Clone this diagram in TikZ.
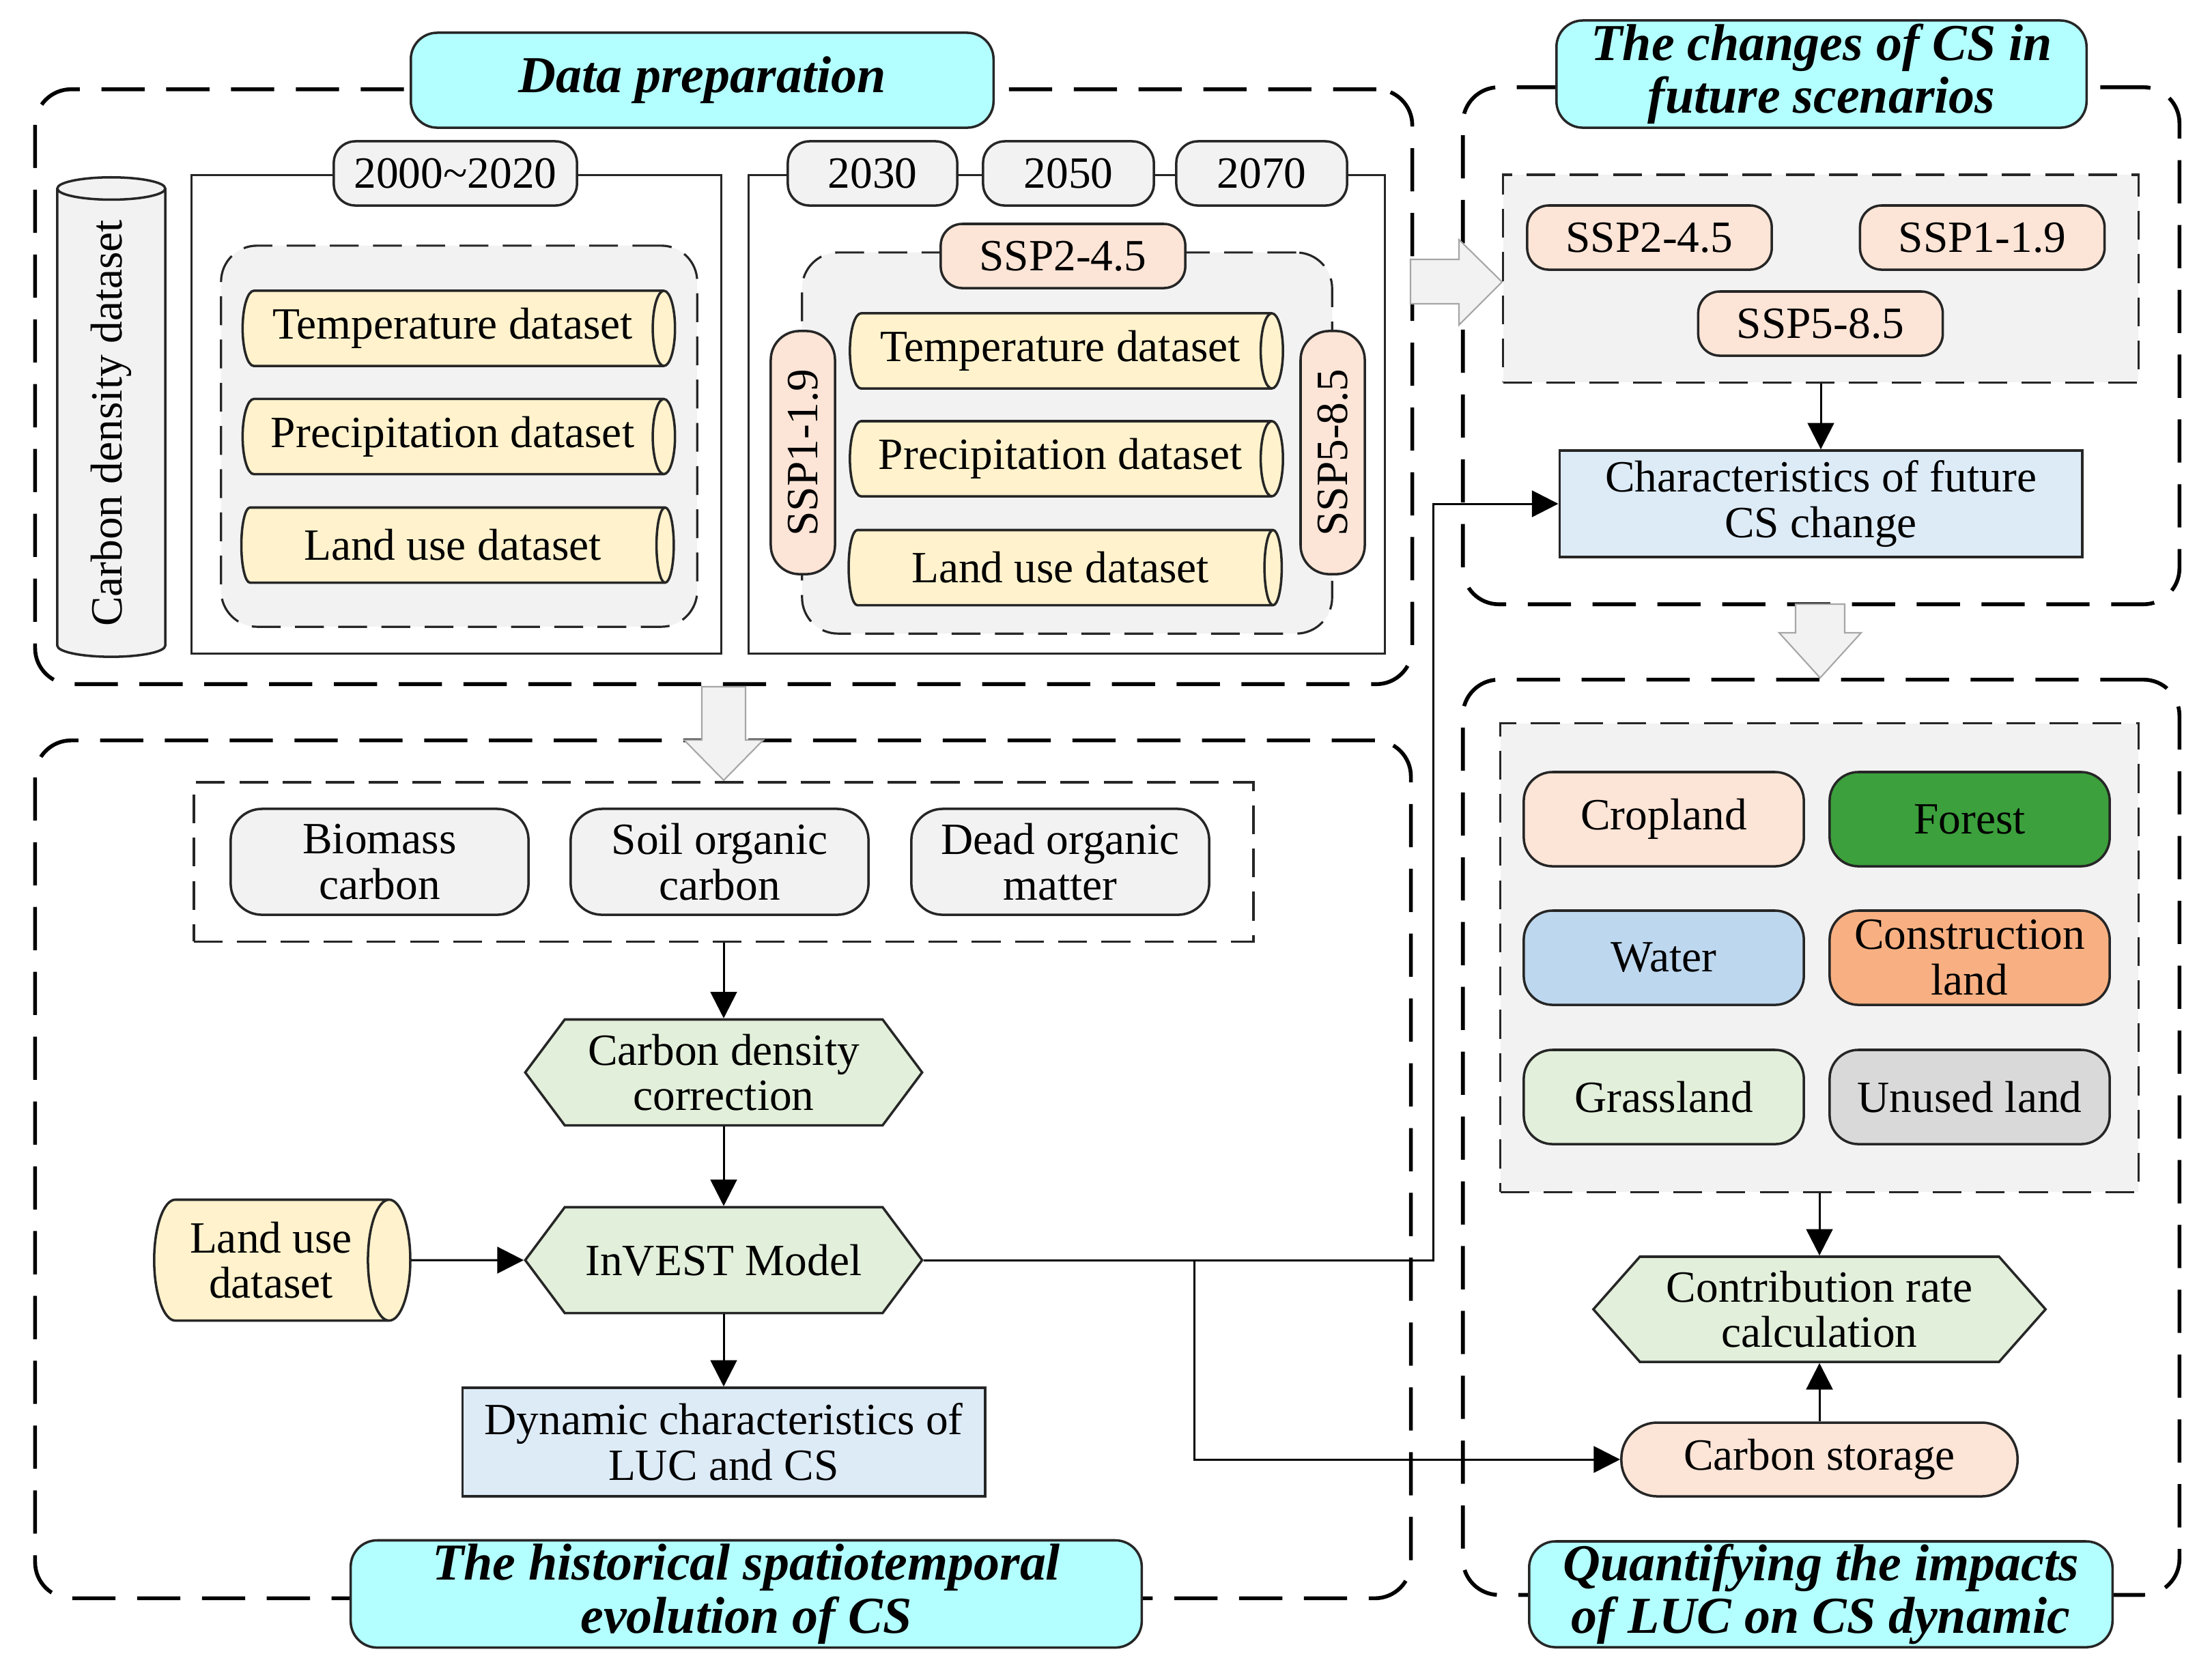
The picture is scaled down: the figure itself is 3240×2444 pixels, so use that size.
\documentclass[tikz,border=0pt]{standalone}
\usepackage{fontspec}
\setmainfont{Liberation Serif}
\usetikzlibrary{shapes.geometric,shapes.symbols,arrows.meta,calc}
\definecolor{titlecyan}{RGB}{179,255,255}
\definecolor{lgray}{RGB}{242,242,242}
\definecolor{lyellow}{RGB}{255,242,204}
\definecolor{peach}{RGB}{252,228,214}
\definecolor{lblue}{RGB}{221,235,247}
\definecolor{water}{RGB}{189,215,238}
\definecolor{forest}{RGB}{60,160,60}
\definecolor{constr}{RGB}{248,176,130}
\definecolor{lgreen}{RGB}{226,239,218}
\definecolor{unused}{RGB}{217,217,217}
\definecolor{edge}{RGB}{38,38,38}
\begin{document}
\begin{tikzpicture}[x=0.01cm,y=-0.01cm,
  every node/.style={font=\fontsize{18.6}{19}\selectfont, align=center, inner sep=0pt, text=black},
  bigdash/.style={rectangle, draw=black, line width=1.6pt, dash pattern=on 18pt off 9pt, rounded corners=15pt},
  smalldash/.style={rectangle, draw=edge, line width=0.9pt, dash pattern=on 12pt off 6pt},
  solidbox/.style={rectangle, draw=edge, line width=0.9pt},
  titlebox/.style={rectangle, draw=edge, line width=1pt, fill=titlecyan, rounded corners=11pt, font=\fontsize{21.6}{22}\selectfont\bfseries\itshape},
  tag/.style={rectangle, draw=edge, line width=1pt, rounded corners=9pt, minimum height=0.94cm},
  dbcyl/.style={cylinder, draw=edge, line width=1pt, fill=lyellow, shape aspect=0.55},
  hexa/.style={signal, signal to=east and west, draw=edge, line width=1pt, fill=lgreen},
  infobox/.style={rectangle, draw=edge, line width=1pt, fill=lblue},
  landbox/.style={rectangle, draw=edge, line width=1pt, rounded corners=12pt, minimum width=4.10cm, minimum height=1.38cm},
  conn/.style={draw=black, line width=0.85pt, -{Triangle[length=11pt,width=11pt]}},
  blockarrow/.style={draw=gray!70, fill=lgray, line width=0.6pt}
]
\fill[white] (0,0) rectangle (3240,2444);
\useasboundingbox (0,0) rectangle (3240,2444);

% ---------- outer sections ----------
\node[bigdash, minimum width=20.16cm, minimum height=8.71cm] (dp) at (1060,566.5) {};
\node[bigdash, minimum width=10.49cm, minimum height=7.57cm] (fut) at (2667.5,506.5) {};
\node[bigdash, minimum width=10.49cm, minimum height=13.40cm] (quant) at (2667.5,1666) {};
\node[bigdash, minimum width=20.14cm, minimum height=12.56cm] (hist) at (1059,1713) {};

% ---------- block arrows ----------
\draw[blockarrow] (2066,380) -- (2137,380) -- (2137,351) -- (2200,413) -- (2137,476) -- (2137,445) -- (2066,445) -- cycle;
\draw[blockarrow] (1028,1006) -- (1092,1006) -- (1092,1084) -- (1118,1084) -- (1060,1143) -- (1002,1084) -- (1028,1084) -- cycle;
\draw[blockarrow] (2630,885) -- (2702,885) -- (2702,927) -- (2726,927) -- (2666,993) -- (2606,927) -- (2630,927) -- cycle;

% ---------- titles ----------
\node[titlebox, minimum width=8.53cm, minimum height=1.39cm] (tdp) at (1028.5,117.5) {Data preparation};
\node[titlebox, minimum width=7.76cm, minimum height=1.57cm] (tfut) at (2668,108.5) {The changes of CS in\\future scenarios};
\node[titlebox, minimum width=11.58cm, minimum height=1.57cm] (thist) at (1093,2335) {The historical spatiotemporal\\evolution of CS};
\node[titlebox, minimum width=8.54cm, minimum height=1.55cm] (tquant) at (2667,2335.5) {Quantifying the impacts\\of LUC on CS dynamic};

% ---------- data preparation ----------
\node[dbcyl, fill=lgray, rotate=90, minimum height=7.02cm, minimum width=1.58cm] (cdd) at (163,620) {Carbon density dataset};

\node[solidbox, minimum width=7.75cm, minimum height=7.00cm] (hbox) at (668.5,607) {};
\node[tag, fill=lgray, minimum width=3.56cm] (y2000) at (667,254) {2000\char`~2020};
\node[smalldash, fill=lgray, rounded corners=15pt, minimum width=6.97cm, minimum height=5.58cm] (g1) at (672.5,639) {};
\node[dbcyl, minimum height=6.33cm, minimum width=1.10cm] (t1) at (663,481) {Temperature dataset};
\node[dbcyl, minimum height=6.33cm, minimum width=1.10cm] (p1) at (663,639.5) {Precipitation dataset};
\node[dbcyl, minimum height=6.33cm, minimum width=1.10cm] (l1) at (663,798.5) {Land use dataset};

\node[solidbox, minimum width=9.31cm, minimum height=7.00cm] (fbox) at (1562.5,607) {};
\node[tag, fill=lgray, minimum width=2.48cm] (y2030) at (1278,254) {2030};
\node[tag, fill=lgray, minimum width=2.50cm] (y2050) at (1565,254) {2050};
\node[tag, fill=lgray, minimum width=2.50cm] (y2070) at (1848,254) {2070};
\node[smalldash, fill=lgray, rounded corners=15pt, minimum width=7.76cm, minimum height=5.58cm] (g2) at (1563,649) {};
\node[tag, fill=peach, minimum width=3.58cm] (s245a) at (1557,375) {SSP2-4.5};
\node[tag, fill=peach, rotate=90, rounded corners=12pt, minimum width=3.56cm] (s119a) at (1176,663) {SSP1-1.9};
\node[tag, fill=peach, rotate=90, rounded corners=12pt, minimum width=3.56cm] (s585a) at (1952,663) {SSP5-8.5};
\node[dbcyl, minimum height=6.34cm, minimum width=1.10cm] (t2) at (1553,514) {Temperature dataset};
\node[dbcyl, minimum height=6.34cm, minimum width=1.10cm] (p2) at (1553,672) {Precipitation dataset};
\node[dbcyl, minimum height=6.34cm, minimum width=1.10cm] (l2) at (1553,831.5) {Land use dataset};

% ---------- future scenarios ----------
\node[smalldash, fill=lgray, minimum width=9.30cm, minimum height=3.04cm] (g3) at (2667,408) {};
\node[tag, fill=peach, minimum width=3.58cm] (s245b) at (2416,348) {SSP2-4.5};
\node[tag, fill=peach, minimum width=3.58cm] (s119b) at (2903.5,348) {SSP1-1.9};
\node[tag, fill=peach, minimum width=3.58cm] (s585b) at (2666.5,474) {SSP5-8.5};
\node[infobox, minimum width=7.65cm, minimum height=1.56cm] (char) at (2667,738) {Characteristics of future\\CS change};

% ---------- quantifying ----------
\node[smalldash, fill=lgray, minimum width=9.34cm, minimum height=6.86cm] (g4) at (2665,1403) {};
\node[landbox, fill=peach] (crop) at (2437,1200) {Cropland};
\node[landbox, fill=forest] (forest) at (2885,1200) {Forest};
\node[landbox, fill=water] (water) at (2437,1403) {Water};
\node[landbox, fill=constr] (constr) at (2885,1403) {Construction\\land};
\node[landbox, fill=lgreen] (grass) at (2437,1607) {Grassland};
\node[landbox, fill=unused] (unused) at (2885,1607) {Unused land};
\node[hexa, signal pointer angle=97, minimum width=6.62cm, minimum height=1.54cm] (contrib) at (2665,1918) {Contribution rate\\calculation};
\node[rectangle, draw=edge, line width=1pt, fill=peach, rounded corners=15pt, minimum width=5.80cm, minimum height=1.08cm] (cs) at (2665,2138) {Carbon storage};

% ---------- historical ----------
\node[smalldash, fill=white, minimum width=15.51cm, minimum height=2.33cm] (pools) at (1060,1262.5) {};
\node[rectangle, draw=edge, line width=1pt, fill=lgray, rounded corners=13pt, minimum width=4.36cm, minimum height=1.55cm] (bio) at (556,1262.5) {Biomass\\carbon};
\node[rectangle, draw=edge, line width=1pt, fill=lgray, rounded corners=13pt, minimum width=4.36cm, minimum height=1.55cm] (soil) at (1054,1262.5) {Soil organic\\carbon};
\node[rectangle, draw=edge, line width=1pt, fill=lgray, rounded corners=13pt, minimum width=4.36cm, minimum height=1.55cm] (dead) at (1553,1262.5) {Dead organic\\matter};
\node[hexa, signal pointer angle=106.5, minimum width=5.81cm, minimum height=1.55cm] (cdc) at (1060,1571) {Carbon density\\correction};
\node[hexa, signal pointer angle=106.5, minimum width=5.81cm, minimum height=1.55cm] (inv) at (1060,1846) {InVEST Model};
\node[dbcyl, minimum height=3.75cm, minimum width=1.77cm] (luh) at (397,1846) {Land use\\dataset};
\node[infobox, minimum width=7.65cm, minimum height=1.59cm] (dyn) at (1060,2112.5) {Dynamic characteristics of\\LUC and CS};

% ---------- connectors ----------
\coordinate (turnx) at (2099,0);
\coordinate (brx) at (1749,0);
\draw[conn] (pools.south) -- (cdc.north);
\draw[conn] (cdc.south) -- (inv.north);
\draw[conn] (luh.east) -- (inv.west);
\draw[conn] (inv.south) -- (dyn.north);
\draw[conn] (inv.east) -- (inv.east -| turnx) |- (char.west);
\draw[conn] (inv.east -| brx) |- (cs.west);
\draw[conn] (g3.south) -- (char.north);
\draw[conn] (g4.south) -- (contrib.north);
\draw[conn] (cs.north) -- (contrib.south);
\end{tikzpicture}
\end{document}
